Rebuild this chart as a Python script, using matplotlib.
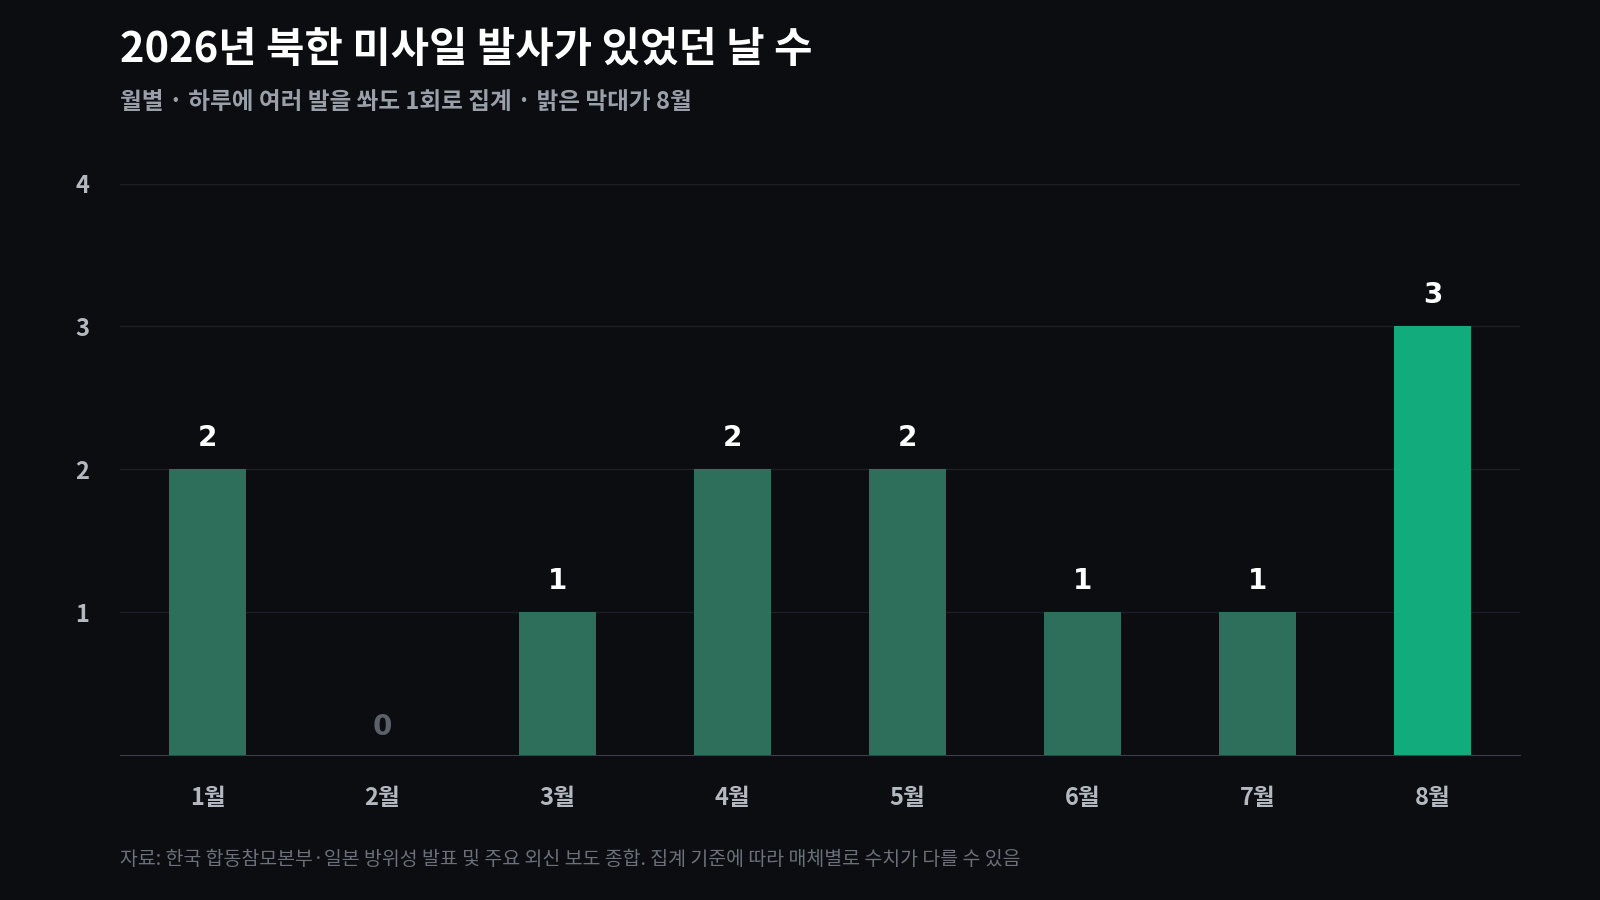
import matplotlib.pyplot as plt


# Hodnoty grafu
MONTHS = ["1월", "2월", "3월", "4월", "5월", "6월", "7월", "8월"]
DAYS = [2, 0, 1, 2, 2, 1, 1, 3]
HIGHLIGHT_MONTH = "8월"

TITLE = "2026년 북한 미사일 발사가 있었던 날 수"
SUBTITLE = "월별 · 하루에 여러 발을 쏴도 1회로 집계 · 밝은 막대가 8월"
SOURCE = "자료: 한국 합동참모본부·일본 방위성 발표 및 주요 외신 보도 종합. 집계 기준에 따라 매체별로 수치가 다를 수 있음"

BG_COLOR = "#0b0d11"
BAR_COLOR = "#2e6f5b"
HIGHLIGHT_COLOR = "#12ab7b"


def plot_monthly_launch_days(save_path="out.png"):
    """
    Vykreslí stĺpcový graf počtu dní s odpalom rakiet po mesiacoch.
    """
    plt.rcParams["font.family"] = ["Noto Sans CJK KR", "DejaVu Sans"]

    fig = plt.figure(figsize=(16, 9), dpi=100, facecolor=BG_COLOR)
    ax = fig.add_axes([0.075, 0.161, 0.875, 0.635], facecolor=BG_COLOR)

    colors = [HIGHLIGHT_COLOR if m == HIGHLIGHT_MONTH else BAR_COLOR for m in MONTHS]
    x = range(len(MONTHS))
    plt.bar(x, DAYS, width=0.44, color=colors, zorder=3)

    # Popisky hodnôt nad stĺpcami
    for i, v in zip(x, DAYS):
        if v == 0:
            plt.text(i, 0.1, "0", ha="center", va="bottom", fontsize=20,
                     fontweight="bold", color="#5b606b", family="DejaVu Sans")
        else:
            plt.text(i, v + 0.12, str(v), ha="center", va="bottom", fontsize=20,
                     fontweight="bold", color="white", family="DejaVu Sans")

    plt.xlim(-0.5, len(MONTHS) - 0.5)
    plt.ylim(0, 4)
    plt.yticks([1, 2, 3, 4], ["1", "2", "3", "4"])
    plt.xticks(list(x), MONTHS)
    ax.tick_params(axis="both", length=0, labelsize=17, labelcolor="#b4b8c0")
    ax.tick_params(axis="x", pad=22)
    ax.tick_params(axis="y", pad=22)
    for lbl in ax.get_xticklabels() + ax.get_yticklabels():
        lbl.set_fontweight("bold")

    plt.grid(axis="y", color="#1c1f26", linewidth=1, zorder=0)
    for side in ["top", "right", "left"]:
        ax.spines[side].set_visible(False)
    ax.spines["bottom"].set_color("#3a3e47")

    # Nadpisy a zdroj
    fig.text(0.075, 0.945, TITLE, fontsize=30, fontweight="bold", color="white", va="center")
    fig.text(0.075, 0.887, SUBTITLE, fontsize=17, fontweight="bold", color="#9aa0aa", va="center")
    fig.text(0.075, 0.045, SOURCE, fontsize=14, color="#6b707a", va="center")

    if save_path is not None:
        plt.savefig(save_path, facecolor=BG_COLOR)


if __name__ == "__main__":
    plot_monthly_launch_days()
